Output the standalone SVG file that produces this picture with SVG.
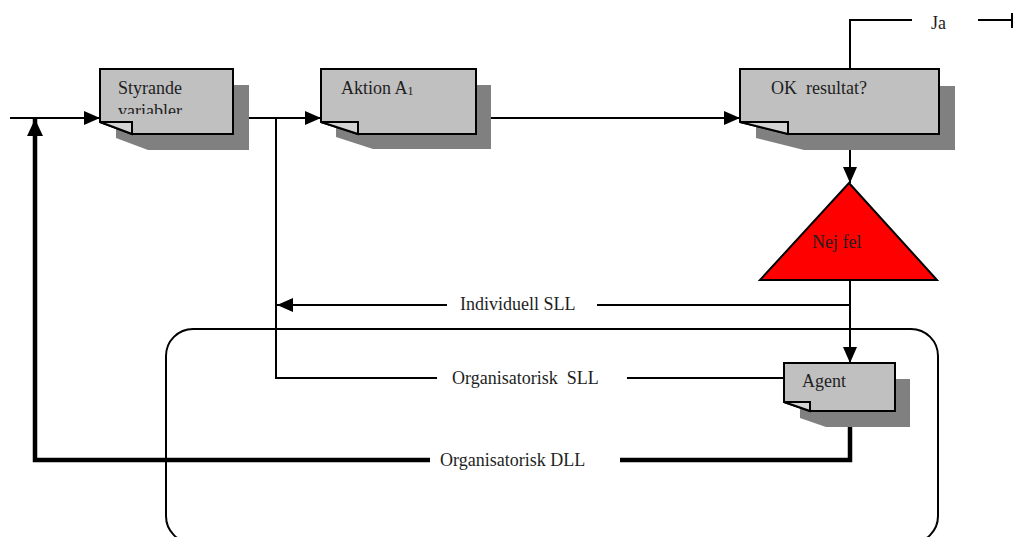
<svg xmlns="http://www.w3.org/2000/svg" width="1013" height="537" viewBox="0 0 1013 537">
  <style>
    .page { fill: #c0c0c0; stroke: #000; stroke-width: 2; stroke-linejoin: miter; }
    .fold { fill: #d4d4d4; stroke: #000; stroke-width: 2; }
    .shadow { fill: #808080; stroke: none; }
    .lbl { font-family: "Liberation Serif", "Times New Roman", serif; font-size: 18px; fill: #1e1e1e; }
    .wire { fill: none; stroke: #000; stroke-width: 2; }
    .thick { fill: none; stroke: #000; stroke-width: 4.5; }
  </style>
  <defs>
    <marker id="arrow" markerUnits="userSpaceOnUse" markerWidth="17" markerHeight="15" refX="16" refY="7" orient="auto">
      <path d="M0,0 L16,7 L0,14 z" fill="#000"/>
    </marker>
    <marker id="arrowBold" markerUnits="userSpaceOnUse" markerWidth="18" markerHeight="17" refX="17" refY="8" orient="auto">
      <path d="M0,0 L17,8 L0,16 z" fill="#000"/>
    </marker>
    <clipPath id="clipStyrande">
      <rect x="100" y="69" width="133" height="45"/>
    </clipPath>
  </defs>

  <!-- organisation frame -->
  <rect id="organisation" x="166" y="329" width="772" height="214" rx="27" ry="27" fill="none" stroke="#000" stroke-width="2"/>

  <!-- connectors -->
  <g id="connectors">
    <!-- input into Styrande variabler -->
    <line class="wire" x1="10" y1="118" x2="100" y2="118" marker-end="url(#arrow)"/>
    <!-- Styrande variabler to Aktion -->
    <line class="wire" x1="233" y1="118" x2="321" y2="118" marker-end="url(#arrow)"/>
    <!-- Aktion to OK resultat -->
    <line class="wire" x1="476" y1="118" x2="740" y2="118" marker-end="url(#arrow)"/>
    <!-- Ja exit -->
    <polyline class="wire" points="850,69 850,20 912,20"/>
    <line class="wire" x1="978" y1="20" x2="1012" y2="20"/>
    <line class="wire" x1="1012" y1="13" x2="1012" y2="28"/>
    <!-- OK resultat to Nej fel -->
    <line class="wire" x1="850" y1="134" x2="850" y2="183" marker-end="url(#arrow)"/>
    <!-- Nej fel to Agent -->
    <line class="wire" x1="850" y1="280" x2="850" y2="363" marker-end="url(#arrow)"/>
    <!-- Individuell SLL -->
    <line class="wire" x1="850" y1="305" x2="597" y2="305"/>
    <line class="wire" x1="447" y1="305" x2="277" y2="305" marker-end="url(#arrow)"/>
    <!-- Organisatorisk SLL -->
    <polyline class="wire" points="276,118 276,378 437,378"/>
    <line class="wire" x1="627" y1="378" x2="784" y2="378"/>
    <!-- Organisatorisk DLL -->
    <polyline class="thick" points="850,411 850,460 620,460"/>
    <polyline class="thick" points="430,460 35,460 35,119" marker-end="url(#arrowBold)"/>
  </g>

  <!-- Styrande variabler -->
  <g id="styrande">
    <polygon class="shadow" points="116,85 249,85 249,150 148,150 116,138"/>
    <polygon class="page" points="100,69 233,69 233,134 132,134 100,122"/>
    <polygon class="fold" points="100,122 132,122 132,134"/>
    <g clip-path="url(#clipStyrande)">
      <text class="lbl" x="118" y="94">Styrande</text>
      <text class="lbl" x="118" y="117">variabler</text>
    </g>
  </g>

  <!-- Aktion A1 -->
  <g id="aktion">
    <polygon class="shadow" points="336,85 491,85 491,149 373,149 336,137"/>
    <polygon class="page" points="321,69 476,69 476,134 358,134 321,122"/>
    <polygon class="fold" points="321,122 358,122 358,134"/>
    <text class="lbl" x="341" y="94">Aktion A<tspan font-size="12" dy="1">1</tspan></text>
  </g>

  <!-- OK resultat? -->
  <g id="ok-resultat">
    <polygon class="shadow" points="756,86 955,86 955,150 804,150 756,138"/>
    <polygon class="page" points="740,69 939,69 939,134 788,134 740,122"/>
    <polygon class="fold" points="740,122 788,122 788,134"/>
    <text class="lbl" x="771" y="94" xml:space="preserve">OK  resultat?</text>
  </g>

  <!-- Ja -->
  <g id="ja">
    <text class="lbl" x="931" y="29">Ja</text>
  </g>

  <!-- Nej fel -->
  <g id="nej-fel">
    <polygon points="849,183 937,280 760,280" fill="#ff0000" stroke="#000" stroke-width="2" stroke-linejoin="miter"/>
    <text class="lbl" x="812" y="248">Nej fel</text>
  </g>

  <!-- connector labels -->
  <g id="labels">
    <text class="lbl" x="460" y="310">Individuell SLL</text>
    <text class="lbl" x="452" y="384" xml:space="preserve">Organisatorisk  SLL</text>
    <text class="lbl" x="440" y="466">Organisatorisk DLL</text>
  </g>

  <!-- Agent -->
  <g id="agent">
    <polygon class="shadow" points="800,379 910,379 910,427 826,427 800,418"/>
    <polygon class="page" points="784,363 895,363 895,411 810,411 784,402"/>
    <polygon class="fold" points="784,402 810,402 810,411"/>
    <text class="lbl" x="802" y="387">Agent</text>
  </g>
</svg>
